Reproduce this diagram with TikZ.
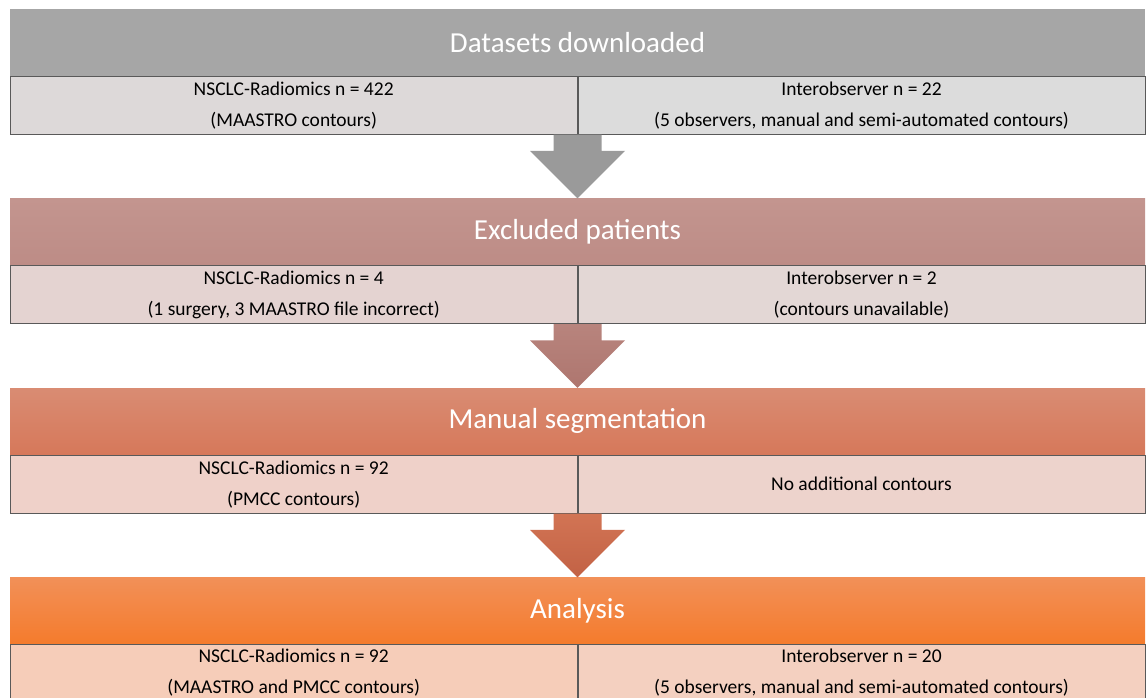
\documentclass[tikz,border=0pt]{standalone}
\usepackage{fontspec}
\setmainfont{Carlito}
\usetikzlibrary{positioning,calc}

\definecolor{barA}{HTML}{A6A6A6}
\definecolor{barBtop}{HTML}{C3958F}
\definecolor{barBbot}{HTML}{BD8C86}
\definecolor{barCtop}{HTML}{D98C73}
\definecolor{barCbot}{HTML}{D6785A}
\definecolor{barDtop}{HTML}{F29058}
\definecolor{barDbot}{HTML}{F47B2C}
\definecolor{cellAl}{HTML}{DDD9D9}
\definecolor{cellAr}{HTML}{DCDCDC}
\definecolor{cellBl}{HTML}{E4D3D1}
\definecolor{cellBr}{HTML}{E3D7D5}
\definecolor{cellCl}{HTML}{EFD1C9}
\definecolor{cellCr}{HTML}{EDD3CC}
\definecolor{cellDl}{HTML}{F6CDB9}
\definecolor{cellDr}{HTML}{F4D0C0}
\definecolor{arrA}{HTML}{9A9A9A}
\definecolor{arrBtop}{HTML}{B8847D}
\definecolor{arrBbot}{HTML}{AE766F}
\definecolor{arrCtop}{HTML}{D27454}
\definecolor{arrCbot}{HTML}{C26245}

\tikzset{
  stage/.style={rectangle, minimum width=1135, minimum height=66.5, inner sep=0pt,
    text=white, font=\fontsize{29}{31}\selectfont},
  cell/.style={rectangle, draw=black!65, line width=0.8pt, minimum width=567,
    minimum height=58, inner sep=0pt, align=center, anchor=north west,
    font=\fontsize{19.5}{31}\selectfont},
}

\begin{document}
\begin{tikzpicture}[x=1pt, y=-1pt]
		\useasboundingbox (0,0) rectangle (1147,697);

		% datasets
		\node (bardown) [stage, fill=barA] at (577.5,42.25) {Datasets downloaded};
		\node (downleft) [cell, fill=cellAl] at (bardown.south west) {NSCLC-Radiomics n = 422\\(MAASTRO contours)};
		\node (downright) [cell, fill=cellAr] at (downleft.north east) {Interobserver n = 22\\(5 observers, manual and semi-automated contours)};

		% exclusions
		\node (barexcl) [stage, top color=barBtop, bottom color=barBbot] at (577.5,231.75) {Excluded patients};
		\node (excleft) [cell, fill=cellBl] at (barexcl.south west) {NSCLC-Radiomics n = 4\\(1 surgery, 3 MAASTRO file incorrect)};
		\node (excright) [cell, fill=cellBr] at (excleft.north east) {Interobserver n = 2\\(contours unavailable)};

		% manual contours
		\node (barmanual) [stage, top color=barCtop, bottom color=barCbot] at (577.5,421.25) {Manual segmentation};
		\node (manleft) [cell, fill=cellCl] at (barmanual.south west) {NSCLC-Radiomics n = 92\\(PMCC contours)};
		\node (manright) [cell, fill=cellCr] at (manleft.north east) {No additional contours};

		% analysis
		\node (baranalysis) [stage, top color=barDtop, bottom color=barDbot] at (577.5,610.75) {Analysis};
		\node (anleft) [cell, fill=cellDl, minimum height=56] at (baranalysis.south west) {NSCLC-Radiomics n = 92\\(MAASTRO and PMCC contours)};
		\node (anright) [cell, fill=cellDr, minimum height=56] at (anleft.north east) {Interobserver n = 20\\(5 observers, manual and semi-automated contours)};

		% block arrows
		\fill [arrA] ($(downleft.south east)+(-24,0)$) -- ($(barexcl.north)+(-24,-47.5)$) -- ($(barexcl.north)+(-47.5,-47.5)$) -- (barexcl.north) -- ($(barexcl.north)+(47.5,-47.5)$) -- ($(barexcl.north)+(24,-47.5)$) -- ($(downleft.south east)+(24,0)$) -- cycle;
		\shade [top color=arrBtop, bottom color=arrBbot] ($(excleft.south east)+(-24,0)$) -- ($(barmanual.north)+(-24,-47.5)$) -- ($(barmanual.north)+(-47.5,-47.5)$) -- (barmanual.north) -- ($(barmanual.north)+(47.5,-47.5)$) -- ($(barmanual.north)+(24,-47.5)$) -- ($(excleft.south east)+(24,0)$) -- cycle;
		\shade [top color=arrCtop, bottom color=arrCbot] ($(manleft.south east)+(-24,0)$) -- ($(baranalysis.north)+(-24,-47.5)$) -- ($(baranalysis.north)+(-47.5,-47.5)$) -- (baranalysis.north) -- ($(baranalysis.north)+(47.5,-47.5)$) -- ($(baranalysis.north)+(24,-47.5)$) -- ($(manleft.south east)+(24,0)$) -- cycle;

\end{tikzpicture}
\end{document}
